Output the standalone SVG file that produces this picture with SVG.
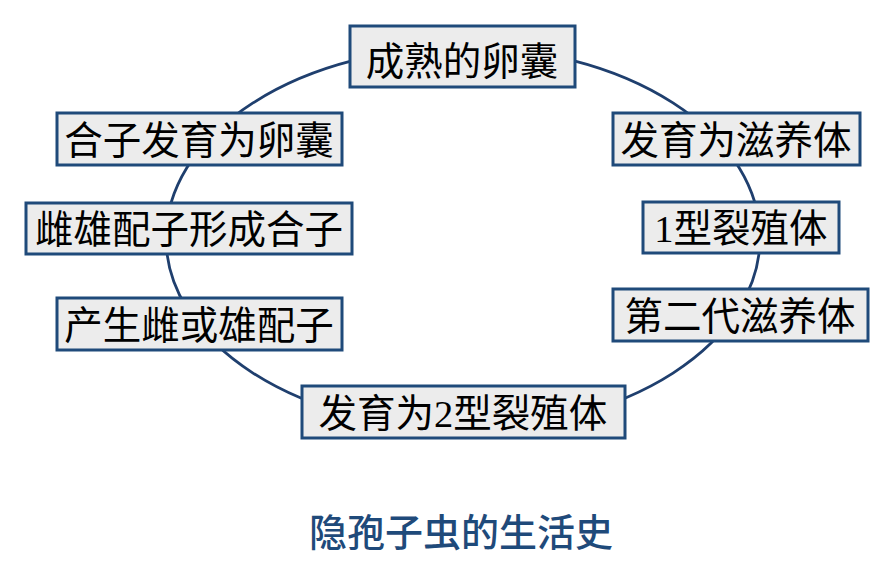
<svg xmlns="http://www.w3.org/2000/svg" width="884" height="566" viewBox="0 0 884 566">
<style>
.box{fill:#ECECEC;stroke:#1F4A7A;stroke-width:3}
.lbl{font-family:"Liberation Serif","Noto Sans CJK SC",serif;font-size:38.5px;fill:#000;text-anchor:middle;dominant-baseline:central}
.ring{fill:none;stroke:#1F3F6E;stroke-width:2.8}
.title{font-family:"Liberation Serif","Noto Sans CJK SC",serif;font-size:38px;fill:#1F4A7A;text-anchor:middle;dominant-baseline:central;font-weight:500}
</style>
<rect width="884" height="566" fill="#fff"/>
<g id="connectors">
<ellipse class="ring" cx="463" cy="238" rx="297" ry="191"/>
</g>
<g id="n1"><rect class="box" x="350" y="26" width="225" height="61"/><text class="lbl" x="462" y="62">成熟的卵囊</text></g>
<g id="n2"><rect class="box" x="613" y="113" width="247" height="52"/><text class="lbl" x="736" y="141">发育为滋养体</text></g>
<g id="n3"><rect class="box" x="643" y="202" width="196" height="51"/><text class="lbl" x="741" y="229">1型裂殖体</text></g>
<g id="n4"><rect class="box" x="613" y="289" width="255" height="52"/><text class="lbl" x="740" y="317">第二代滋养体</text></g>
<g id="n5"><rect class="box" x="302" y="386" width="323" height="52"/><text class="lbl" x="463" y="414">发育为2型裂殖体</text></g>
<g id="n6"><rect class="box" x="57" y="298" width="285" height="52"/><text class="lbl" x="199" y="326">产生雌或雄配子</text></g>
<g id="n7"><rect class="box" x="26" y="203" width="326" height="51"/><text class="lbl" x="189" y="230">雌雄配子形成合子</text></g>
<g id="n8"><rect class="box" x="57" y="113" width="285" height="52"/><text class="lbl" x="199" y="141">合子发育为卵囊</text></g>
<text class="title" x="461" y="533">隐孢子虫的生活史</text>
</svg>
